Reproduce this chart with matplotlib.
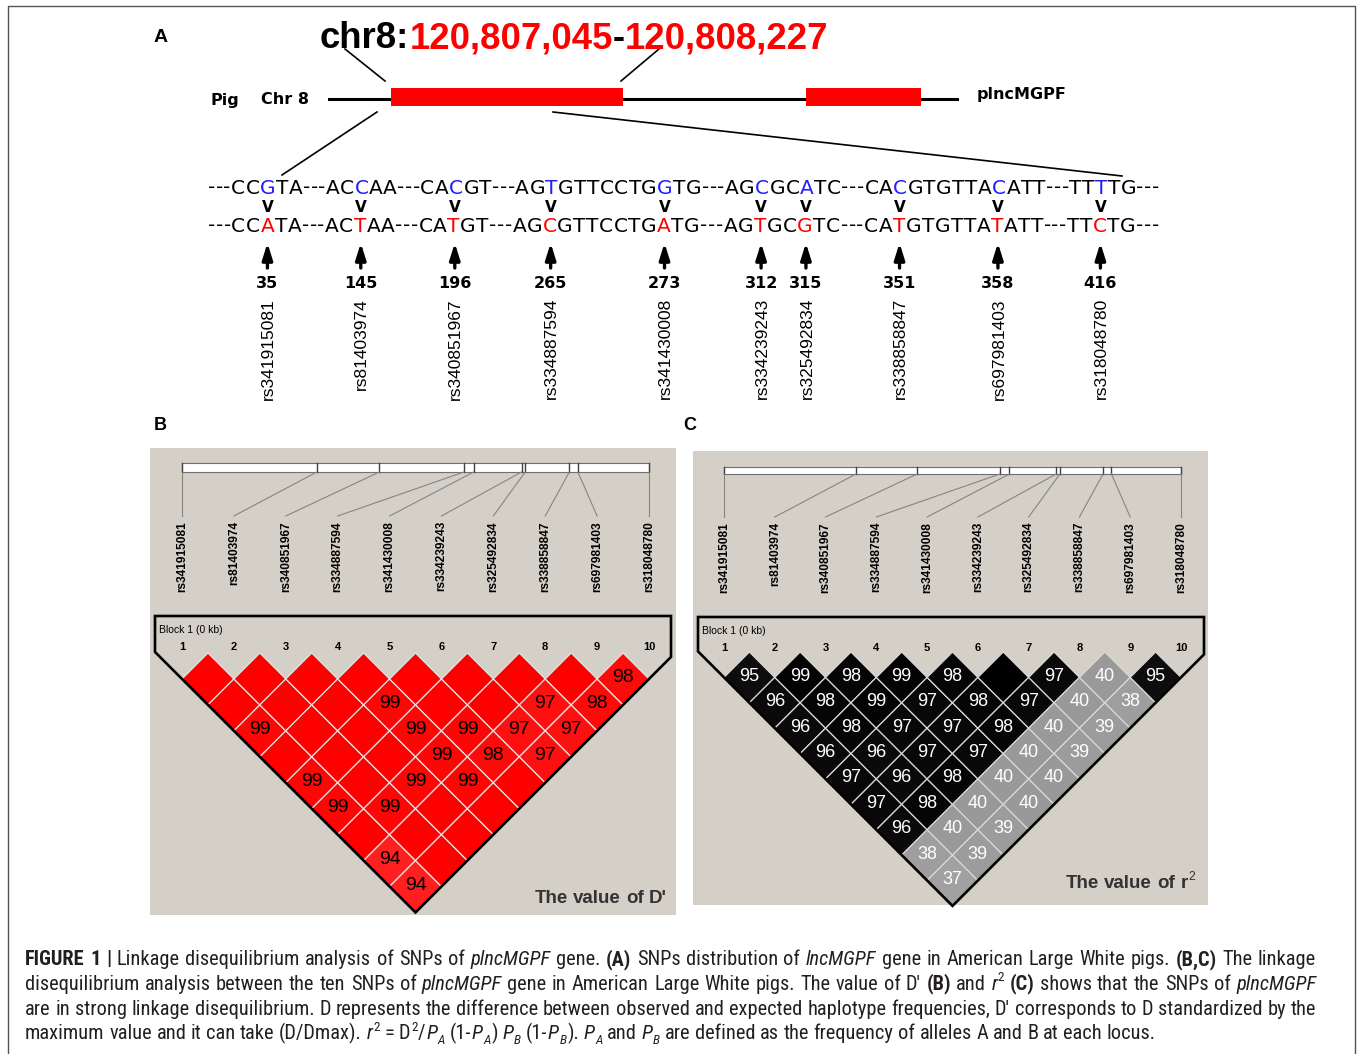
import re

import matplotlib
matplotlib.use("Agg")
import matplotlib.pyplot as plt
from matplotlib import font_manager
from matplotlib.patches import Polygon, Rectangle

installed = {f.name for f in font_manager.fontManager.ttflist}
condensed = sorted(n for n in installed if "Narrow" in n or "Condensed" in n)
NARROW = next((n for n in ["Liberation Sans Narrow", "Roboto Condensed", "Open Sans Condensed"]
               if n in installed), condensed[0] if condensed else "Roboto")
SANS = "Liberation Sans"
WIDE = "DejaVu Sans"

# ---------------------------------------------------------------- data
snp_ids = ["rs341915081", "rs81403974", "rs340851967", "rs334887594", "rs341430008",
           "rs334239243", "rs325492834", "rs338858847", "rs697981403", "rs318048780"]
snp_pos = [35, 145, 196, 265, 273, 312, 315, 351, 358, 416]

# lower case marks the SNP base in each allele
ref_seq = "---CCgTA---ACcAA---CAcGT---AGtGTTCCTGgTG---AGcGCaTC---CAcGTGTTAcATT---TTtTG---"
alt_seq = "---CCaTA---ACtAA---CAtGT---AGcGTTCCTGaTG---AGtGCgTC---CAtGTGTTAtATT---TTcTG---"

title_parts = [("chr8:", "black"), ("120,807,045", "red"), ("-", "black"), ("120,808,227", "red")]

# pairwise LD (x100); row i holds SNP i against SNPs i+1 .. 10
dprime = [
    [100, 100, 99, 100, 99, 99, 100, 94, 94],
    [100, 100, 100, 100, 100, 99, 100, 100],
    [100, 100, 100, 100, 99, 100, 100],
    [100, 99, 99, 99, 99, 100],
    [100, 100, 99, 98, 100],
    [100, 100, 97, 97],
    [100, 97, 97],
    [100, 98],
    [98],
]
r2 = [
    [95, 96, 96, 96, 97, 97, 96, 38, 37],
    [99, 98, 98, 96, 96, 98, 40, 39],
    [98, 99, 97, 97, 98, 40, 39],
    [99, 97, 97, 97, 40, 40],
    [98, 98, 98, 40, 40],
    [100, 97, 40, 39],
    [97, 40, 39],
    [40, 38],
    [95],
]

caption = [
    "**FIGURE 1 |** Linkage disequilibrium analysis of SNPs of *plncMGPF* gene. **(A)** SNPs distribution of "
    "*lncMGPF* gene in American Large White pigs. **(B,C)** The linkage",
    "disequilibrium analysis between the ten SNPs of *plncMGPF* gene in American Large White pigs. "
    "The value of D\u2032 **(B)** and *r*^{2} **(C)** shows that the SNPs of *plncMGPF*",
    "are in strong linkage disequilibrium. D represents the difference between observed and expected "
    "haplotype frequencies, D\u2032 corresponds to D standardized by the",
    "maximum value and it can take (D/Dmax). *r*^{2} = D^{2}/*P*_{A} (1-*P*_{A}) *P*_{B} (1-*P*_{B}). "
    "*P*_{A} and *P*_{B} are defined as the frequency of alleles A and B at each locus.",
]

# ---------------------------------------------------------------- canvas (1 unit = 1 px)
W, H = 1357, 1054
fig = plt.figure(figsize=(W / 100, H / 100), dpi=100)
ax = fig.add_axes([0, 0, 1, 1])
ax.set_xlim(0, W)
ax.set_ylim(H, 0)
ax.axis("off")
R = fig.canvas.get_renderer()


def text_w(t):
    return t.get_window_extent(R).width


def fit_size(s, width, family, **kw):
    t = ax.text(0, 0, s, fontsize=10, family=family, **kw)
    w = text_w(t)
    t.remove()
    return 10 * width / w


def style_kw(style, fs):
    px = fs * 100 / 72
    if style == "bold":
        return dict(fontsize=fs, fontweight="bold"), 0
    if style == "italic":
        return dict(fontsize=fs, fontstyle="italic"), 0
    if style == "sup":
        return dict(fontsize=fs * 0.65), -0.42 * px
    if style == "sub":
        return dict(fontsize=fs * 0.65, fontstyle="italic"), 0.22 * px
    return dict(fontsize=fs), 0


def parse(line):
    runs = []
    for tok in re.split(r"(\*\*.+?\*\*|\*[^*]+?\*|\^\{[^}]*\}|_\{[^}]*\})", line):
        if not tok:
            continue
        if tok.startswith("**"):
            runs.append((tok[2:-2], "bold"))
        elif tok.startswith("*"):
            runs.append((tok[1:-1], "italic"))
        elif tok.startswith("^{"):
            runs.append((tok[2:-1], "sup"))
        elif tok.startswith("_{"):
            runs.append((tok[2:-1], "sub"))
        else:
            runs.append((tok, "normal"))
    return runs


def place_runs(x, y, runs, fs, family, color="black", target=None, anchor="left", kern=0.6):
    """Lay out styled words along a baseline; optionally justified to `target` px."""
    objs = []
    for run in runs:
        txt, style = run[0], run[1]
        col = run[2] if len(run) > 2 else color
        kw, dy = style_kw(style, fs)
        for k, word in enumerate(txt.split(" ")):
            if k > 0:
                objs.append(None)
            if word:
                objs.append(ax.text(0, y + dy, word, family=family, color=col,
                                    ha="left", va="baseline", **kw))
    probe = [ax.text(0, 0, s, fontsize=fs, family=family) for s in ("x x", "xx")]
    space = text_w(probe[0]) - text_w(probe[1])
    for p in probe:
        p.remove()
    widths = [text_w(t) if t is not None else 0 for t in objs]
    n_sp = objs.count(None)
    n_join = sum(1 for a, b in zip(objs, objs[1:]) if a is not None and b is not None)
    natural = sum(widths) + n_sp * space + n_join * kern
    gap = space + (target - natural) / n_sp if (target and n_sp) else space
    total = natural + n_sp * (gap - space)
    cx = x - total if anchor == "right" else x
    prev = None
    for t, w in zip(objs, widths):
        if t is None:
            cx += gap
        else:
            if prev is not None:
                cx += kern
            t.set_x(cx)
            cx += w
        prev = t
    return total


# ---------------------------------------------------------------- outer frame
ax.plot([8, 8, 1355, 1355], [H, 6, 6, H], color="#555555", lw=1)

# ---------------------------------------------------------------- panel A
ax.text(161, 37, "A", fontsize=14, fontweight="bold", family=SANS, ha="center", va="center")

plain_title = "".join(p for p, _ in title_parts)
tfs = fit_size(plain_title, 510, SANS, fontweight="bold")
place_runs(320, 48, [(p, "bold", c) for p, c in title_parts], tfs, SANS, kern=0)

ax.plot([345, 385], [49, 81], color="black", lw=1.2)
ax.plot([659, 621], [49, 81], color="black", lw=1.2)
ax.plot([329, 957], [99, 99], color="black", lw=2.2)
ax.add_patch(Rectangle((391, 88), 232, 18, facecolor="#ff0000", edgecolor="none", zorder=3))
ax.add_patch(Rectangle((806, 88), 115, 18, facecolor="#ff0000", edgecolor="none", zorder=3))
ax.text(211, 100, "Pig", fontsize=11.5, fontweight="bold", family=WIDE, va="center")
ax.text(261, 100, "Chr 8", fontsize=11.5, fontweight="bold", family=WIDE, va="center")
ax.text(977, 94, "plncMGPF", fontsize=11.5, fontweight="bold", family=WIDE, va="center")
ax.plot([377, 282], [112, 175], color="black", lw=1.2)
ax.plot([553, 1122], [112, 176], color="black", lw=1.2)

SEQ_X0, SEQ_X1, SEQ_FS = 208, 1159, 14.5


def draw_sequence(seq, baseline, snp_colour):
    texts = [ax.text(0, baseline, ch.upper(), fontsize=SEQ_FS, family=WIDE, va="baseline",
                     color=snp_colour if ch.islower() else "black") for ch in seq]
    widths = [text_w(t) for t in texts]
    track = (SEQ_X1 - SEQ_X0 - sum(widths)) / (len(seq) - 1)
    x, centres = SEQ_X0, []
    for ch, t, w in zip(seq, texts, widths):
        t.set_x(x)
        if ch.islower():
            centres.append(x + w / 2)
        x += w + track
    return centres


ref_c = draw_sequence(ref_seq, 193.5, "#1f1fff")
alt_c = draw_sequence(alt_seq, 231.5, "#ff0000")
snp_x = [(a + b) / 2 for a, b in zip(ref_c, alt_c)]

for x, pos, name in zip(snp_x, snp_pos, snp_ids):
    ax.text(x, 207, "V", fontsize=11, fontweight="bold", family=WIDE, ha="center", va="center")
    ax.annotate("", xy=(x, 243), xytext=(x, 268),
                arrowprops=dict(arrowstyle="-|>,head_length=0.7,head_width=0.22",
                                mutation_scale=14, lw=2.4, color="black", shrinkA=0, shrinkB=0))
    ax.text(x, 283, str(pos), fontsize=11.5, fontweight="bold", family=WIDE, ha="center",
            va="center")
    ax.text(x + 1, 298, name, fontsize=12.5, family=SANS, rotation=90, ha="center", va="top")

# ---------------------------------------------------------------- panels B and C
BG = "#d4d0c8"


def dprime_colour(v):
    s = min(1.0, 2 * (1 - v / 100))
    return (1.0, s, s)


def r2_colour(v):
    g = 1 - v / 100
    return (g, g, g)


def ld_panel(g, values, face, text_colour, cell_fs, title_runs):
    left, top, right, bottom = g["box"]
    ax.add_patch(Rectangle((left, top), right - left, bottom - top, facecolor=BG,
                           edgecolor="none", zorder=0))
    x0, x9 = g["cols"]
    dx = (x9 - x0) / 9
    cols = [x0 + k * dx for k in range(10)]

    # physical positions of the SNPs along the region
    b0, b1 = g["bar"]
    ax.add_patch(Rectangle((x0, b0), x9 - x0, b1 - b0, facecolor="white",
                           edgecolor="#707070", lw=0.8))
    span = snp_pos[-1] - snp_pos[0]
    for c, pos, name in zip(cols, snp_pos, snp_ids):
        px = x0 + (pos - snp_pos[0]) / span * (x9 - x0)
        ax.plot([px, px], [b0, b1], color="#404040", lw=1)
        ax.plot([px, c], [b1, g["link"]], color="#858585", lw=0.8)
        ax.text(c, g["label"], name, rotation=90, ha="center", va="top",
                fontsize=8.6, fontweight="bold", family=SANS)

    # haplotype block frame
    bl, bt, br = g["block"]
    ct = g["cells"]
    apex = (x0 + 4.5 * dx, ct + 5 * dx)
    frame = [(bl, bt), (br, bt), (br, apex[1] - (br - apex[0])), apex,
             (bl, apex[1] - (apex[0] - bl))]
    ax.add_patch(Polygon(frame, closed=True, fill=False, edgecolor="black", lw=1.9,
                         joinstyle="miter", zorder=4))
    ax.text(bl + 4, bt + 14, "Block 1 (0 kb)", fontsize=7.5, family=SANS, va="center")
    for k, c in enumerate(cols):
        ax.text(c, bt + 31, str(k + 1), fontsize=8, fontweight="bold", family=SANS,
                ha="center", va="center")

    # pairwise cells
    h = dx / 2
    for i, row in enumerate(values):
        for k, v in enumerate(row):
            j = i + 1 + k
            cx = x0 + (i + j) / 2 * dx
            cy = ct + (j - i) * h
            ax.add_patch(Polygon([(cx, cy - h), (cx + h, cy), (cx, cy + h), (cx - h, cy)],
                                 closed=True, facecolor=face(v), edgecolor=g["grid"], lw=0.9))
            if v < 100:
                ax.text(cx, cy - 1, str(v), fontsize=cell_fs, family=SANS, color=text_colour,
                        ha="center", va="center")

    cx, cy = g["title"]
    place_runs(cx, cy, title_runs, 13.5, SANS, color="#333333", anchor="right", kern=0.5)


ax.text(160, 425, "B", fontsize=13, fontweight="bold", family=SANS, ha="center", va="center")
ax.text(690, 425, "C", fontsize=13, fontweight="bold", family=SANS, ha="center", va="center")

ld_panel(dict(box=(150, 448, 676, 915), cols=(182, 649), bar=(463, 472), link=516, label=521,
              block=(155, 616, 671), cells=653, grid="#e4e4e4", title=(667, 903)),
         dprime, dprime_colour, "black", 14, [("The value of D'", "bold")])
ld_panel(dict(box=(693, 451, 1208, 905), cols=(724, 1181), bar=(467, 474), link=517, label=522,
              block=(698, 617, 1204), cells=652, grid="#d8d8d8", title=(1195, 888)),
         r2, r2_colour, "white", 13, [("The value of r", "bold"), ("2", "sup")])

# ---------------------------------------------------------------- caption
plain = re.sub(r"[*^_{}]", "", caption[0])
cfs = min(15, fit_size(plain, 1262, NARROW))
for k, line in enumerate(caption):
    target = 1291 if k < len(caption) - 1 else None
    place_runs(25, 965 + k * 24.8, parse(line), cfs, NARROW, color="#231f20", target=target)

fig.savefig("out.png", dpi=100)
